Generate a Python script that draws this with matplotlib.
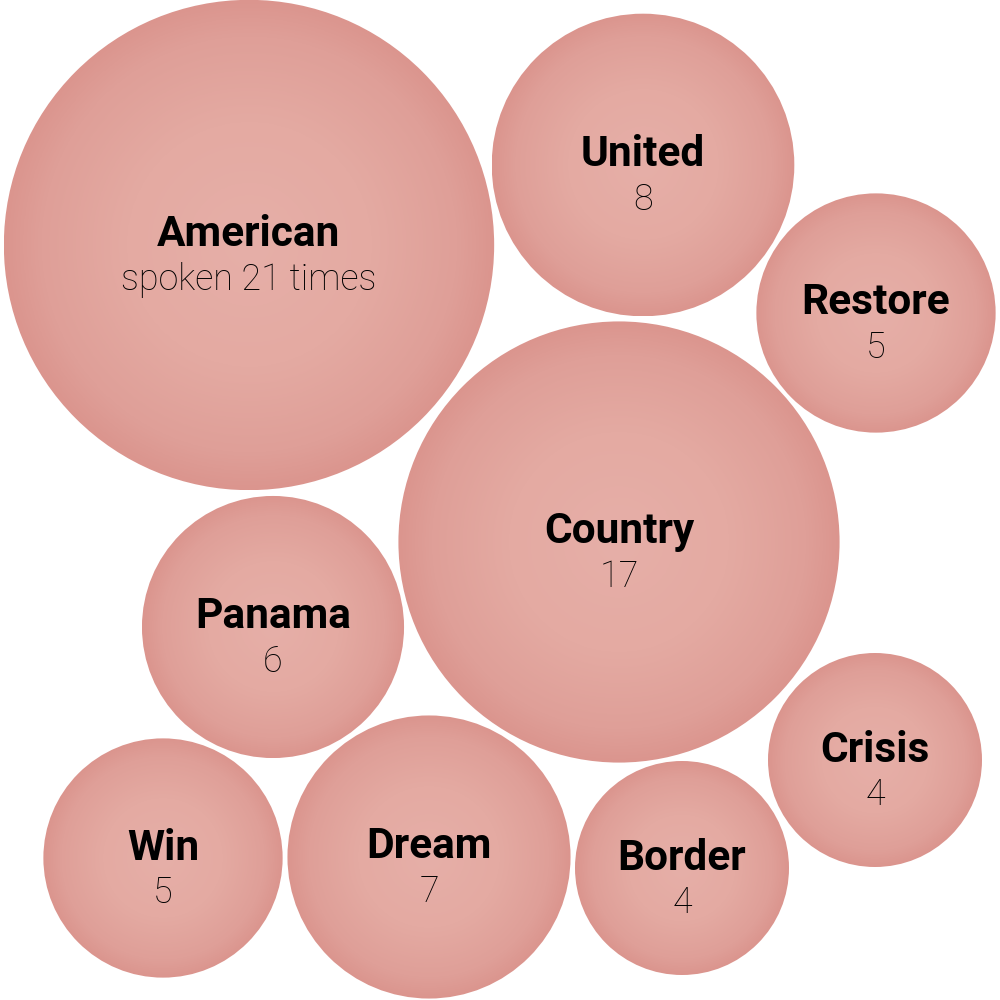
import numpy as np
import matplotlib
matplotlib.use("Agg")
import matplotlib.pyplot as plt
from matplotlib.patches import Circle
from matplotlib.colors import LinearSegmentedColormap

# data
words = ["American", "United", "Restore", "Country", "Panama", "Crisis", "Win", "Dream", "Border"]
counts = [21, 8, 5, 17, 6, 4, 5, 7, 4]

# layout (bubble centres in pixel space, picked to match the packing)
centers_x = [249, 643, 876, 619, 273, 875, 163, 429, 682]
centers_y = [245, 165, 313, 542, 627, 760, 858, 857, 868]
scale = 53.5  # radius = scale * sqrt(count)

fig = plt.figure(figsize=(10, 10), dpi=100)
ax = fig.add_axes([0, 0, 1, 1])
ax.set_xlim(0, 1000)
ax.set_ylim(1000, 0)
ax.set_aspect("equal")
ax.axis("off")

cmap = LinearSegmentedColormap.from_list(
    "bub", [(0.0, "#e6afa8"), (0.5, "#e4aaa2"), (0.85, "#df9f98"), (1.0, "#db958e")])

n = 400
g = np.linspace(-1, 1, n)
xx, yy = np.meshgrid(g, g)
rr = np.clip(np.sqrt(xx ** 2 + yy ** 2), 0, 1)

for i, w in enumerate(words):
    cx, cy = centers_x[i], centers_y[i]
    r = scale * np.sqrt(counts[i])
    circ = Circle((cx, cy), r, facecolor="none", edgecolor="none")
    ax.add_patch(circ)
    im = ax.imshow(rr, cmap=cmap, vmin=0, vmax=1,
                   extent=[cx - r, cx + r, cy + r, cy - r], interpolation="bilinear", zorder=1)
    im.set_clip_path(circ)

    ax.text(cx, cy - 10, w, ha="center", va="center", fontsize=30.5,
            fontweight="bold", family=["Roboto", "DejaVu Sans"], color="black", zorder=3)
    sub = "spoken %d times" % counts[i] if i == 0 else str(counts[i])
    ax.text(cx, cy + 35, sub, ha="center", va="center", fontsize=25.8,
            fontweight="light", family=["Roboto", "DejaVu Sans"], color="black", zorder=3)

ax.set_xlim(0, 1000)
ax.set_ylim(1000, 0)
fig.savefig("out.png", dpi=100, facecolor="white")
